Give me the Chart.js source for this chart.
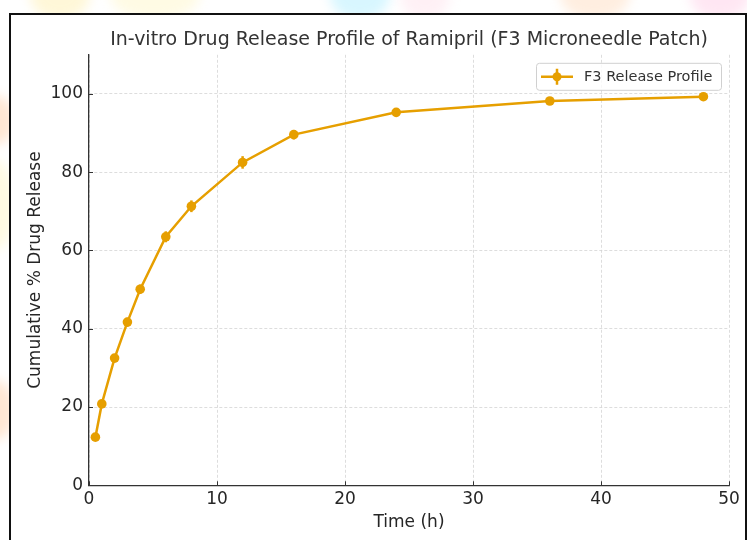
<!DOCTYPE html>
<html lang="en">
<head>
  <meta charset="UTF-8">
  <title>In-vitro Drug Release Profile of Ramipril</title>
  <script src="https://cdn.jsdelivr.net/npm/chart.js"></script>
</head>
<style>
  body {
      margin: 0;
      width: 747px;
      height: 540px;
      overflow: hidden;
      background: #fff;
      position: relative;
      font-family: 'DejaVu Sans', sans-serif;
  }

  .blob {
      position: absolute;
      border-radius: 50%;
      filter: blur(6px);
      opacity: 0.3;
  }

  .frame {
      position: absolute;
      left: 9px;
      top: 13px;
      width: 734px;
      height: 540px;
      border: 2px solid #111;
      border-bottom: none;
      background: #fff;
  }

  canvas {
      position: absolute;
      left: 0;
      top: 0;
  }
</style>

<body>
  <div class="blob" style="left:30px;top:-30px;width:60px;height:50px;background:#ffe680"></div>
  <div class="blob" style="left:110px;top:-30px;width:90px;height:50px;background:#fff2a8"></div>
  <div class="blob" style="left:330px;top:-30px;width:60px;height:50px;background:#7fe3ff"></div>
  <div class="blob" style="left:400px;top:-30px;width:50px;height:50px;background:#ffd0e0"></div>
  <div class="blob" style="left:560px;top:-30px;width:70px;height:50px;background:#ffc89a"></div>
  <div class="blob" style="left:690px;top:-30px;width:60px;height:50px;background:#ffb0d8"></div>
  <div class="blob" style="left:-25px;top:95px;width:40px;height:50px;background:#ffb070"></div>
  <div class="blob" style="left:-25px;top:160px;width:40px;height:90px;background:#fff0a0"></div>
  <div class="blob" style="left:-25px;top:380px;width:40px;height:60px;background:#ffb070"></div>
  <div class="frame"></div>
  <canvas id="releaseChart" width="747" height="540"></canvas>

<script>

  // F3 microneedle patch, cumulative release (%) vs time (h)
  const timePoints = [0.5, 1, 2, 3, 4, 6, 8, 12, 16, 24, 36, 48];
  const releaseValues = [12.3, 20.8, 32.5, 41.7, 50.1, 63.5, 71.3, 82.5, 89.6, 95.3, 98.2, 99.3];
  const releaseErrors = [0.5, 0.8, 1.0, 1.1, 1.2, 1.4, 1.5, 1.6, 1.2, 0.9, 0.6, 0.4];
  const xTickValues = [0, 10, 20, 30, 40, 50];
  const yTickValues = [0, 20, 40, 60, 80, 100];

  const lineColor = '#E69F00';
  const axisColor = '#333';
  const textColor = '#262626';

  // error bars, inward ticks and the legend box
  const extras = {
    id: 'extras',
    afterDatasetsDraw(chart) {
      const ctx = chart.ctx;
      const xs = chart.scales.x;
      const ys = chart.scales.y;
      ctx.save();
      ctx.strokeStyle = lineColor;
      ctx.lineWidth = 2.5;
      timePoints.forEach((t, i) => {
        const px = xs.getPixelForValue(t);
        ctx.beginPath();
        ctx.moveTo(px, ys.getPixelForValue(releaseValues[i] - releaseErrors[i]));
        ctx.lineTo(px, ys.getPixelForValue(releaseValues[i] + releaseErrors[i]));
        ctx.stroke();
      });
      ctx.restore();
    },
    afterDraw(chart) {
      const ctx = chart.ctx;
      const area = chart.chartArea;
      const xs = chart.scales.x;
      const ys = chart.scales.y;
      ctx.save();
      ctx.strokeStyle = axisColor;
      ctx.lineWidth = 1;
      xTickValues.forEach(v => {
        const px = Math.round(xs.getPixelForValue(v)) + 0.5;
        ctx.beginPath();
        ctx.moveTo(px, area.bottom);
        ctx.lineTo(px, area.bottom - 4);
        ctx.stroke();
      });
      yTickValues.forEach(v => {
        const py = Math.round(ys.getPixelForValue(v)) + 0.5;
        ctx.beginPath();
        ctx.moveTo(area.left, py);
        ctx.lineTo(area.left + 4, py);
        ctx.stroke();
      });

      // legend
      const bw = 185, bh = 27;
      const bx = area.right - 8 - bw;
      const by = area.top + 8;
      ctx.fillStyle = 'rgba(255,255,255,0.8)';
      ctx.strokeStyle = '#d0d0d0';
      ctx.lineWidth = 1;
      ctx.beginPath();
      ctx.roundRect(bx + 0.5, by + 0.5, bw, bh, 3);
      ctx.fill();
      ctx.stroke();

      const cy = by + bh / 2 + 0.5;
      ctx.strokeStyle = lineColor;
      ctx.lineWidth = 2.5;
      ctx.beginPath();
      ctx.moveTo(bx + 5, cy);
      ctx.lineTo(bx + 37, cy);
      ctx.moveTo(bx + 21, cy - 8);
      ctx.lineTo(bx + 21, cy + 8);
      ctx.stroke();
      ctx.fillStyle = lineColor;
      ctx.beginPath();
      ctx.arc(bx + 21, cy, 4.5, 0, Math.PI * 2);
      ctx.fill();

      ctx.fillStyle = '#333';
      ctx.font = '14.5px "DejaVu Sans"';
      ctx.textBaseline = 'middle';
      ctx.textAlign = 'left';
      ctx.fillText('F3 Release Profile', bx + 48, cy);
      ctx.restore();
    }
  };

  const ctx = document.getElementById('releaseChart').getContext('2d');

  new Chart(ctx, {
    type: 'line',
    data: {
      datasets: [{
        label: 'F3 Release Profile',
        data: timePoints.map((t, i) => ({ x: t, y: releaseValues[i] })),
        borderColor: lineColor,
        backgroundColor: lineColor,
        borderWidth: 2.5,
        pointRadius: 4.8,
        pointBorderWidth: 0,
        tension: 0,
        fill: false
      }]
    },
    options: {
      responsive: false,
      animation: false,
      layout: {
        padding: { top: 19, right: 18, left: 0, bottom: 0 }
      },
      plugins: {
        legend: { display: false },
        tooltip: { enabled: false },
        title: {
          display: true,
          fullSize: false,
          text: 'In-vitro Drug Release Profile of Ramipril (F3 Microneedle Patch)',
          color: '#333',
          font: { family: 'DejaVu Sans', size: 19, weight: 'normal' },
          padding: { top: 10, bottom: 3 }
        }
      },
      scales: {
        x: {
          type: 'linear',
          min: 0,
          max: 50,
          afterBuildTicks: scale => { scale.ticks = xTickValues.map(v => ({ value: v })); },
          afterFit: scale => {
            scale.height = 54.7;
            scale.paddingLeft = 0;
            scale.paddingRight = 0;
          },
          ticks: {
            color: textColor,
            padding: 4,
            font: { family: 'DejaVu Sans', size: 17 }
          },
          grid: {
            color: '#d4d4d4',
            lineWidth: 0.8,
            drawTicks: false
          },
          border: { display: true, color: axisColor, width: 1.3, dash: [3, 2] },
          title: {
            display: true,
            text: 'Time (h)',
            color: textColor,
            font: { family: 'DejaVu Sans', size: 17 },
            padding: { top: 0, bottom: 7 }
          }
        },
        y: {
          type: 'linear',
          min: 0,
          max: 110,
          afterBuildTicks: scale => { scale.ticks = yTickValues.map(v => ({ value: v })); },
          afterFit: scale => {
            scale.width = 89;
            scale.paddingTop = 0;
            scale.paddingBottom = 0;
          },
          ticks: {
            color: textColor,
            padding: 6,
            font: { family: 'DejaVu Sans', size: 17 }
          },
          grid: {
            color: '#d4d4d4',
            lineWidth: 0.8,
            drawTicks: false
          },
          border: { display: true, color: axisColor, width: 1.3, dash: [3, 2] },
          title: {
            display: true,
            text: 'Cumulative % Drug Release',
            color: textColor,
            font: { family: 'DejaVu Sans', size: 17 },
            padding: { top: 25, bottom: 0 }
          }
        }
      }
    },
    plugins: [extras]
  });

</script>
</body>
</html>
